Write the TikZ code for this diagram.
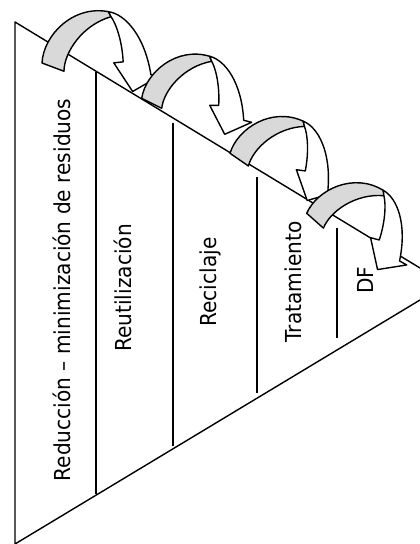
\documentclass[tikz,border=0pt]{standalone}
\usepackage{fontspec}
\setmainfont[FakeStretch=0.915]{DejaVu Sans}
\definecolor{cinta}{gray}{0.85}
\tikzset{
  bucle/.pic={
    % cara gris de la cinta
    \filldraw[fill=cinta] (0,0) .. controls (4,-26) and (35,-52) .. (68,-42)
      -- (70,-37) .. controls (42,-32) and (22,-8) .. (20,10) -- cycle;
    % cara blanca con la punta
    \filldraw[fill=white] (68,-42) .. controls (84,-38) and (100,-15) .. (102,22)
      -- (110,24) -- (83,36) -- (68,7) -- (77,7)
      .. controls (78,-10) and (75,-28) .. (70,-37) -- cycle;
  },
  etapa/.style={rotate=90, anchor=base, font=\fontsize{22}{26}\selectfont}
}
\begin{document}
\begin{tikzpicture}[x=1pt, y=-1pt, line width=1.4pt, line join=round]
\useasboundingbox (0,0) rectangle (420,544);
\coordinate (cima) at (15,22);
\coordinate (pie) at (15,544);
\draw (420,268) -- (cima) -- (pie) -- (420,300);
\draw (96,72) -- (96,494);
\draw (173,123) -- (173,446);
\draw (257,177) -- (257,393);
\draw (337,228) -- (337,338);
\node[etapa] (reduccion) at (70,290) {Reducción – minimización de residuos};
\node[etapa] (reutilizacion) at (131.5,288) {Reutilización};
\node[etapa] (reciclaje) at (216.5,282) {Reciclaje};
\node[etapa] (tratamiento) at (301.5,282) {Tratamiento};
\node[etapa] (df) at (373,280) {DF};
\pic[rotate=6, scale=1.05] at (42,63) {bucle};
\pic at (141.7,98.3) {bucle};
\pic[rotate=-8] at (230,153.3) {bucle};
\pic[rotate=-15] at (306.7,213.3) {bucle};
\end{tikzpicture}
\end{document}
